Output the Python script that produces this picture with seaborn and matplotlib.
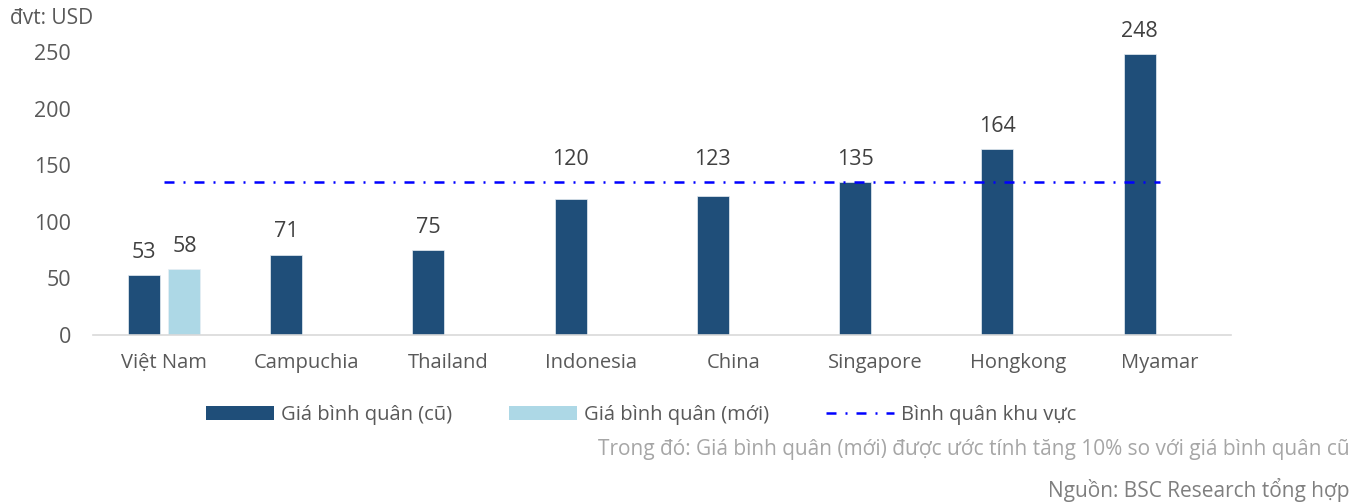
import numpy as np
import pandas as pd
import matplotlib
matplotlib.use("Agg")
import matplotlib.pyplot as plt
from matplotlib.patches import Patch
from matplotlib.lines import Line2D
import seaborn as sns

# Average price per country (USD)
countries = ["Việt Nam", "Campuchia", "Thailand", "Indonesia", "China",
             "Singapore", "Hongkong", "Myamar"]
price_old = [53, 71, 75, 120, 123, 135, 164, 248]
price_new_country = ["Việt Nam"]
price_new = [58]
regional_avg = 135

series_old = "Giá bình quân (cũ)"
series_new = "Giá bình quân (mới)"
series_avg = "Bình quân khu vực"
y_ticks = [0, 50, 100, 150, 200, 250]

c_old = "#1F4E79"
c_new = "#ADD8E6"
c_avg = "#0000FF"
c_text = "#595959"
avg_dashes = (4, 3.6, 0.8, 3.6)

sns.set_theme(style="white")
plt.rcParams["font.family"] = ["Open Sans", "DejaVu Sans"]

df = pd.concat([
    pd.DataFrame({"country": countries, "series": series_old, "value": price_old}),
    pd.DataFrame({"country": price_new_country, "series": series_new, "value": price_new}),
], ignore_index=True)

fig = plt.figure(figsize=(13.64, 5.04), dpi=100)
ax = fig.add_axes([93 / 1364, 1 - 335 / 504, 1138 / 1364, (335 - 52) / 504])

sns.barplot(data=df, x="country", y="value", hue="series", order=countries,
            hue_order=[series_old, series_new], palette=[c_old, c_new],
            width=0.572, gap=0.213, dodge=True, saturation=1, ax=ax,
            edgecolor="#E8EEF4", linewidth=0.5, legend=False)

# Regional average line spanning the category centres
line_df = pd.DataFrame({"pos": np.arange(len(countries)),
                        "value": [regional_avg] * len(countries)})
sns.lineplot(data=line_df, x="pos", y="value", color=c_avg, linewidth=1.8,
             ax=ax, legend=False)
ax.lines[-1].set_dashes(avg_dashes)

# Value labels; labels that would sit on the average line are lifted above it
for cont in ax.containers:
    for bar in cont:
        h = bar.get_height()
        if np.isnan(h) or h == 0:
            continue
        anchor = regional_avg if regional_avg - 22 < h < regional_avg else h
        ax.annotate(f"{h:.0f}", (bar.get_x() + bar.get_width() / 2, anchor),
                    xytext=(0, 12.5), textcoords="offset points",
                    ha="center", va="baseline", fontsize=15.5,
                    color="#404040", clip_on=False)

ax.set_xlim(-0.5, len(countries) - 0.5)
ax.set_ylim(0, 250)
ax.set_yticks(y_ticks)
ax.set_xticks(range(len(countries)))
ax.set_xticklabels(countries)
ax.set_xlabel("")
ax.set_ylabel("")
ax.tick_params(axis="y", length=0, pad=16, labelsize=15.5, labelcolor=c_text)
ax.tick_params(axis="x", length=0, pad=13, labelsize=14.5, labelcolor=c_text)
for s in ["top", "right", "left"]:
    ax.spines[s].set_visible(False)
ax.spines["bottom"].set_color("#D9D9D9")
ax.spines["bottom"].set_linewidth(1.2)
ax.grid(False)

fig.text(10 / 1364, 1 - 18 / 504, "đvt: USD", fontsize=15, color=c_text,
         ha="left", va="center")

handles = [
    Patch(facecolor=c_old, edgecolor="none"),
    Patch(facecolor=c_new, edgecolor="none"),
    Line2D([0], [0], color=c_avg, linewidth=1.8, dashes=avg_dashes),
]
fig.legend(handles, [series_old, series_new, series_avg], ncol=3,
           loc="center", bbox_to_anchor=(641 / 1364, 1 - 415 / 504),
           frameon=False, fontsize=14.5, labelcolor=c_text,
           handlelength=3.4, handleheight=0.65, handletextpad=0.35,
           columnspacing=2.8)

fig.text(1350 / 1364, 1 - 450 / 504,
         "Trong đó: Giá bình quân (mới) được ước tính tăng 10% so với giá bình quân cũ",
         fontsize=15, color="#A6A6A6", ha="right", va="center")
fig.text(1350 / 1364, 1 - 490 / 504, "Nguồn: BSC Research tổng hợp",
         fontsize=15, color="#7F7F7F", ha="right", va="center")

fig.savefig("out.png", dpi=100)
